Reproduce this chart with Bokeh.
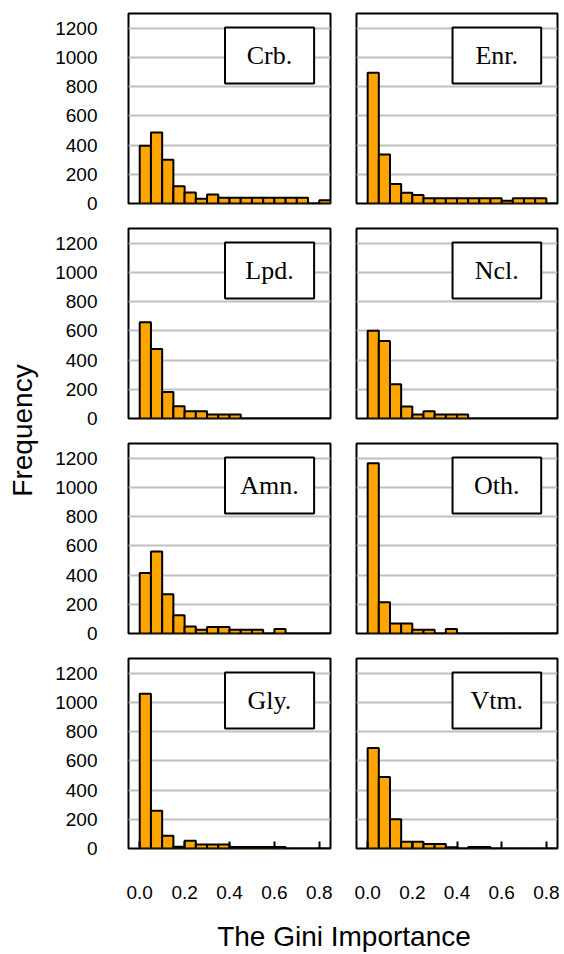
import math
from bokeh.plotting import figure
from bokeh.models import (Range1d, LinearAxis, Grid, FixedTicker, PrintfTickFormatter,
                          BoxAnnotation, Label, ColumnDataSource)
from bokeh.layouts import column, row
from bokeh.embed import file_html
from bokeh.resources import INLINE

# ---------------- data ----------------
bin_start = [0.00, 0.05, 0.10, 0.15, 0.20, 0.25, 0.30, 0.35, 0.40,
             0.45, 0.50, 0.55, 0.60, 0.65, 0.70, 0.75, 0.80]
bin_width = 0.05

crb = [395, 485, 300, 118, 75, 32, 62, 40, 40, 40, 40, 40, 40, 40, 40, 0, 22]
enr = [895, 335, 134, 74, 58, 36, 36, 36, 36, 36, 36, 36, 18, 36, 36, 36, 0]
lpd = [658, 475, 182, 84, 50, 50, 27, 27, 27, 0, 0, 0, 0, 0, 0, 0, 0]
ncl = [600, 530, 234, 82, 27, 50, 27, 27, 27, 0, 0, 0, 0, 0, 0, 0, 0]
amn = [414, 561, 268, 125, 48, 25, 45, 45, 25, 25, 25, 0, 30, 0, 0, 0, 0]
oth = [1165, 214, 68, 68, 25, 25, 0, 30, 0, 0, 0, 0, 0, 0, 0, 0, 0]
gly = [1058, 258, 87, 12, 53, 28, 28, 28, 10, 10, 10, 10, 10, 0, 0, 0, 0]
vtm = [687, 490, 200, 46, 46, 30, 30, 8, 0, 10, 10, 0, 0, 0, 0, 0, 0]

panel_names = ["Crb.", "Enr.", "Lpd.", "Ncl.", "Amn.", "Oth.", "Gly.", "Vtm."]
panel_values = [crb, enr, lpd, ncl, amn, oth, gly, vtm]

y_ticks = [0, 200, 400, 600, 800, 1000, 1200]
grid_ticks = [200, 400, 600, 800, 1000, 1200]
x_ticks = [0.0, 0.2, 0.4, 0.6, 0.8]

x_title = "The Gini Importance"
y_title = "Frequency"

# ---------------- style ----------------
BAR_FILL = "#FFA500"
SANS = "Liberation Sans"
SERIF = "Liberation Serif"
TICK_SIZE = "19px"
TITLE_SIZE = "28px"
PANEL_LABEL_SIZE = "26px"

X_RANGE = (-0.05, 0.85)
Y_RANGE = (0, 1300)
BOX = dict(left=0.38, right=0.777, bottom=821, top=1204)
LABEL_POS = (0.578, 1012)

LEFT_LABEL_W = 50
GRID_H = 908


def make_panel(name, vals, col, rowi):
    left = col == 0
    bottom = rowi == 3
    p = figure(
        width=293 if left else 221,
        height=263 if bottom else 215,
        x_range=Range1d(*X_RANGE), y_range=Range1d(*Y_RANGE),
        x_axis_location=None, y_axis_location=None,
        toolbar_location=None, output_backend="svg",
        min_border_left=78 if left else 13,
        min_border_right=13 if left else 7,
        min_border_top=13,
        min_border_bottom=60 if bottom else 12,
    )
    p.grid.visible = False
    p.background_fill_color = "white"
    p.border_fill_color = "white"
    p.outline_line_color = "black"
    p.outline_line_width = 2
    p.outline_line_alpha = 1.0

    p.add_layout(Grid(dimension=1, ticker=FixedTicker(ticks=grid_ticks),
                      grid_line_color="#c0c0c0", grid_line_width=2))

    src = ColumnDataSource(dict(
        left=bin_start,
        right=[s + bin_width for s in bin_start],
        top=vals,
    ))
    p.quad(left="left", right="right", bottom=0, top="top", source=src,
           fill_color=BAR_FILL, line_color="black", line_width=2)

    if left:
        ya = LinearAxis(ticker=FixedTicker(ticks=y_ticks))
        ya.axis_line_color = None
        ya.major_tick_in = 0
        ya.major_tick_out = 0
        ya.minor_tick_line_color = None
        ya.major_label_standoff = 31
        ya.major_label_text_font = SANS
        ya.major_label_text_font_size = TICK_SIZE
        ya.major_label_text_color = "black"
        p.add_layout(ya, "left")

    if bottom:
        xa = LinearAxis(ticker=FixedTicker(ticks=x_ticks),
                        formatter=PrintfTickFormatter(format="%.1f"))
        xa.axis_line_color = None
        xa.major_tick_in = 7
        xa.major_tick_out = 0
        xa.major_tick_line_color = "black"
        xa.major_tick_line_width = 2
        xa.minor_tick_line_color = None
        xa.major_label_standoff = 37
        xa.major_label_text_font = SANS
        xa.major_label_text_font_size = TICK_SIZE
        xa.major_label_text_color = "black"
        p.add_layout(xa, "below")

    p.add_layout(BoxAnnotation(fill_color="white", fill_alpha=1.0,
                               line_color="black", line_width=2, line_alpha=1.0,
                               **BOX))
    p.add_layout(Label(x=LABEL_POS[0], y=LABEL_POS[1], text=name,
                       text_align="center", text_baseline="middle",
                       text_font=SERIF, text_font_size=PANEL_LABEL_SIZE,
                       text_color="black"))
    return p


rows = []
for r in range(4):
    figs = []
    for c in range(2):
        i = r * 2 + c
        figs.append(make_panel(panel_names[i], panel_values[i], c, r))
    rows.append(row(*figs))
grid_col = column(*rows)

# y title figure
yf = figure(width=LEFT_LABEL_W, height=GRID_H,
            x_range=Range1d(0, LEFT_LABEL_W), y_range=Range1d(0, GRID_H),
            x_axis_location=None, y_axis_location=None,
            toolbar_location=None, output_backend="svg", min_border=0)
yf.grid.visible = False
yf.outline_line_color = None
yf.add_layout(Label(x=22, y=GRID_H - 430, text=y_title, angle=math.pi / 2,
                    text_align="center", text_baseline="middle",
                    text_font=SANS, text_font_size=TITLE_SIZE, text_color="black"))

# x title figure
TW, TH = 564, 954 - GRID_H
xf = figure(width=TW, height=TH, x_range=Range1d(0, TW), y_range=Range1d(0, TH),
            x_axis_location=None, y_axis_location=None,
            toolbar_location=None, output_backend="svg", min_border=0)
xf.grid.visible = False
xf.outline_line_color = None
xf.add_layout(Label(x=343.5, y=TH - 28, text=x_title,
                    text_align="center", text_baseline="middle",
                    text_font=SANS, text_font_size=TITLE_SIZE, text_color="black"))

layout = column(row(yf, grid_col), xf)

open("out.html", "w").write(file_html(layout, INLINE))
